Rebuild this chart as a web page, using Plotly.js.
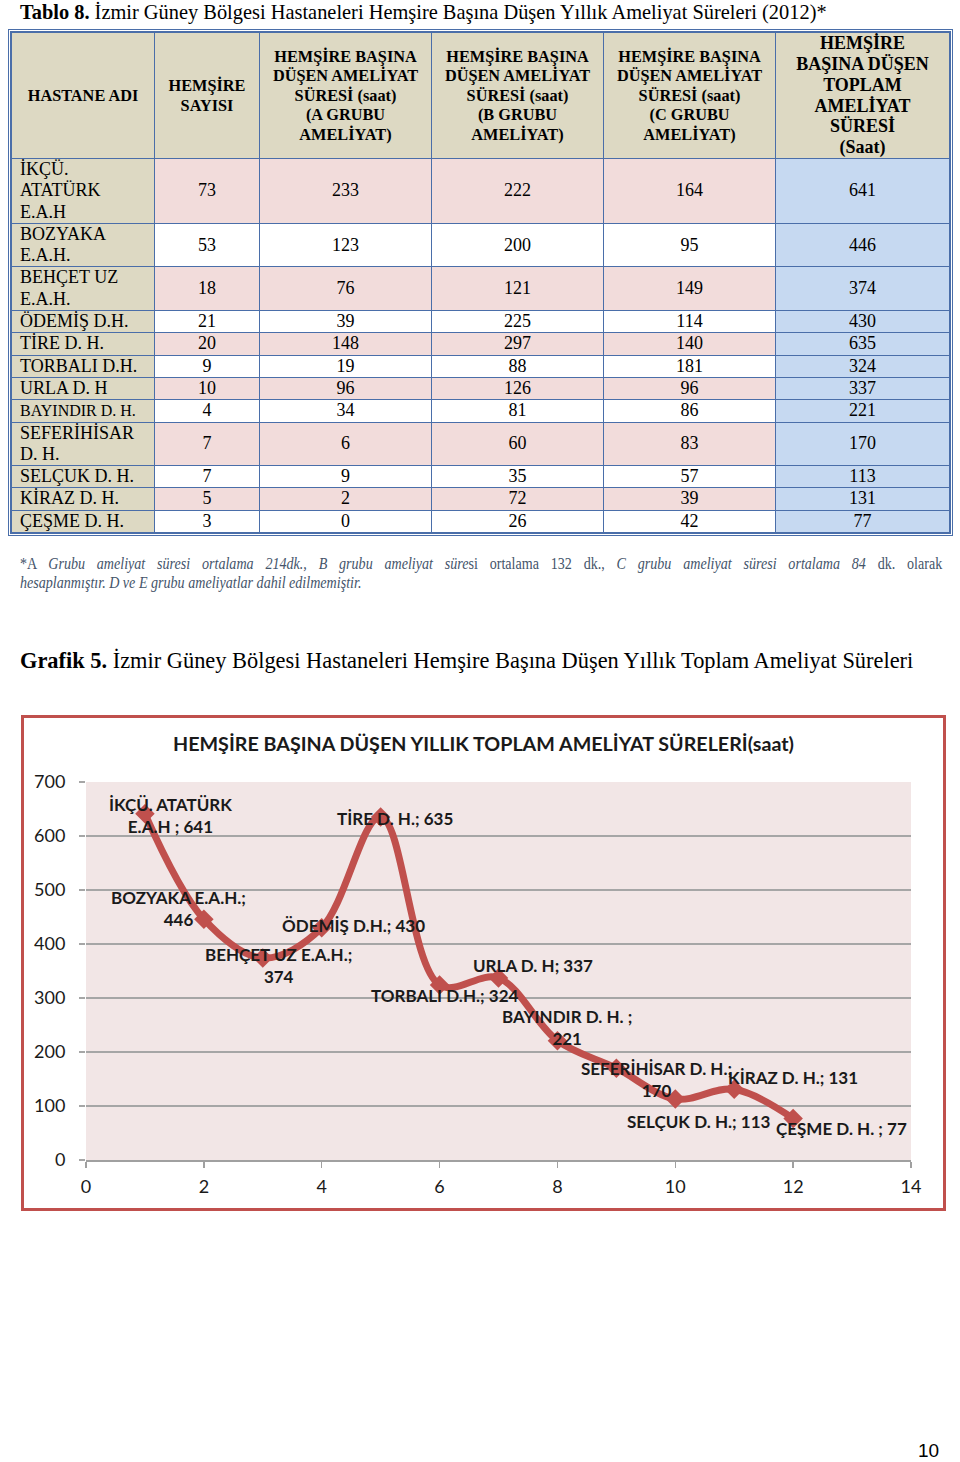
<!DOCTYPE html>
<html>
<head>
<meta charset="UTF-8">
<script src="https://cdn.plot.ly/plotly-3.0.1.min.js"></script>
<style>
body { margin:0; background:#fff; width:960px; height:1462px; position:relative; font-family:"Liberation Serif", serif; overflow:hidden; }
#caption { position:absolute; left:20px; top:0px; font-size:20.4px; line-height:24px; color:#000; white-space:nowrap; }
#tableBox { position:absolute; left:8px; top:29px; border:3px double #4a6ea9; }
#tableBox table { border-collapse:collapse; table-layout:fixed; width:938px; }
#tableBox th, #tableBox td { border:1.5px solid #4a6ea9; padding:0; color:#000; }
#tableBox th { background:#ddd9c3; font-size:16.3px; line-height:19.5px; height:125px; text-align:center; vertical-align:middle; }
#tableBox th.last { font-size:18px; line-height:20.8px; }
#tableBox td { font-size:18px; line-height:21.3px; text-align:center; vertical-align:middle; }
#tableBox td.name { background:#ddd9c3; text-align:left; padding-left:8px; }
#note { position:absolute; left:20px; top:554px; width:1048px; font-size:16px; line-height:19px; color:#44546a; transform:scaleX(0.88); transform-origin:0 0; }
#note .l1 { text-align:justify; text-align-last:justify; white-space:nowrap; }
#grafik { position:absolute; left:20px; top:647px; font-size:22.4px; line-height:28px; white-space:nowrap; }
#chart { position:absolute; left:21px; top:715px; width:925px; height:496px; border:3px solid #c0504d; box-sizing:border-box; }
#page { position:absolute; left:918px; top:1440px; font-family:"Liberation Sans", sans-serif; font-size:19px; }
</style>
</head>
<body>

<div id="caption"><b>Tablo 8.</b> İzmir Güney Bölgesi Hastaneleri Hemşire Başına Düşen Yıllık Ameliyat Süreleri (2012)*</div>
<div id="tableBox"></div>
<div id="note">
	<div class="l1">*A <i>Grubu ameliyat süresi ortalama 214dk., B grubu ameliyat süre</i>si ortalama 132 dk., <i>C grubu ameliyat süresi ortalama 84</i> dk. olarak</div>
	<div><i>hesaplanmıştır. D ve E grubu ameliyatlar dahil edilmemiştir.</i></div>
</div>
<div id="grafik"><b>Grafik 5.</b> İzmir Güney Bölgesi Hastaneleri Hemşire Başına Düşen Yıllık Toplam Ameliyat Süreleri</div>
<div id="chart"></div>
<div id="page">10</div>

<script>
	// table data
	var headers = [
		'HASTANE ADI',
		'HEMŞİRE<br>SAYISI',
		'HEMŞİRE BAŞINA<br>DÜŞEN AMELİYAT<br>SÜRESİ (saat)<br>(A GRUBU<br>AMELİYAT)',
		'HEMŞİRE BAŞINA<br>DÜŞEN AMELİYAT<br>SÜRESİ (saat)<br>(B GRUBU<br>AMELİYAT)',
		'HEMŞİRE BAŞINA<br>DÜŞEN AMELİYAT<br>SÜRESİ (saat)<br>(C GRUBU<br>AMELİYAT)',
		'HEMŞİRE<br>BAŞINA DÜŞEN<br>TOPLAM<br>AMELİYAT<br>SÜRESİ<br>(Saat)'
	];
	var hospitals = ['İKÇÜ.<br>ATATÜRK<br>E.A.H', 'BOZYAKA<br>E.A.H.', 'BEHÇET UZ<br>E.A.H.', 'ÖDEMİŞ D.H.', 'TİRE D. H.',
		'TORBALI D.H.', 'URLA D. H', 'BAYINDIR D. H.', 'SEFERİHİSAR<br>D. H.', 'SELÇUK D. H.', 'KİRAZ D. H.', 'ÇEŞME D. H.'];
	var nurses = [73, 53, 18, 21, 20, 9, 10, 4, 7, 7, 5, 3];
	var groupA = [233, 123, 76, 39, 148, 19, 96, 34, 6, 9, 2, 0];
	var groupB = [222, 200, 121, 225, 297, 88, 126, 81, 60, 35, 72, 26];
	var groupC = [164, 95, 149, 114, 140, 181, 96, 86, 83, 57, 39, 42];
	var total = [641, 446, 374, 430, 635, 324, 337, 221, 170, 113, 131, 77];

	// chart data
	var chartX = [1, 2, 3, 4, 5, 6, 7, 8, 9, 10, 11, 12];
	var chartNames = ['İKÇÜ. ATATÜRK<br>E.A.H ', 'BOZYAKA E.A.H.', 'BEHÇET UZ E.A.H.', 'ÖDEMİŞ D.H.', 'TİRE D. H.',
		'TORBALI D.H.', 'URLA D. H', 'BAYINDIR D. H. ', 'SEFERİHİSAR D. H.', 'SELÇUK D. H.', 'KİRAZ D. H.', 'ÇEŞME D. H. '];
	var chartTitle = 'HEMŞİRE BAŞINA DÜŞEN YILLIK TOPLAM AMELİYAT SÜRELERİ(saat)';

	// label placement (pixels relative to the point)
	var labelSep = [' ', '<br>', '<br>', ' ', ' ', ' ', ' ', '<br>', '<br>', ' ', ' ', ' '];
	var labelShift = [[26, -2], [-25, 11], [16, -7], [32, 2], [14, -1], [5, -10], [34, 13], [10, 13], [40, -11], [24, -23], [59, 12], [48, -10]];

	// --- table, built from the arrays ---
	function buildTable()
	{
		var widths = [143, 105, 172, 172, 172, 174];
		var html = '<table><colgroup>';
		widths.forEach(function(w) { html += '<col style="width:' + w + 'px">'; });
		html += '</colgroup><tr>';
		headers.forEach(function(h, i)
		{
			html += '<th' + (i == headers.length - 1 ? ' class="last"' : '') + '>' + h + '</th>';
		});
		html += '</tr>';
		for(var i = 0; i < hospitals.length; i++)
		{
			var fill = (i % 2 == 0) ? '#f2dcdb' : '#ffffff';
			// long single-line names are set a little smaller, as in the original
			var nameStyle = (hospitals[i].indexOf('<br>') < 0 && hospitals[i].length > 13) ? ' style="font-size:16px"' : '';
			html += '<tr><td class="name"' + nameStyle + '>' + hospitals[i] + '</td>';
			[nurses, groupA, groupB, groupC].forEach(function(col)
			{
				html += '<td style="background:' + fill + '">' + col[i] + '</td>';
			});
			html += '<td style="background:#c6d9f1">' + total[i] + '</td></tr>';
		}
		html += '</table>';
		document.getElementById('tableBox').innerHTML = html;
	}
	buildTable();

	// --- chart ---
	var lineTrace =
	{
		x: chartX,
		y: total,
		type: 'scatter',
		mode: 'lines+markers',
		line: {color: '#c0504d', width: 7, shape: 'spline', smoothing: 1},
		marker: {symbol: 'diamond', size: 15, color: '#c0504d'},
		showlegend: false,
		hoverinfo: 'none'
	};

	var annotations = chartX.map(function(x, i)
	{
		return {
			x: x, y: total[i], xref: 'x', yref: 'y',
			text: '<b>' + chartNames[i] + ';' + labelSep[i] + total[i] + '</b>',
			showarrow: false,
			xshift: labelShift[i][0], yshift: labelShift[i][1],
			xanchor: 'center', yanchor: 'middle', align: 'center',
			font: {family: 'Lato', size: 17, color: '#1a1a1a'}
		};
	});

	var layout =
	{
		width: 919,
		height: 490,
		margin: {l: 62, r: 32, t: 64, b: 48},
		paper_bgcolor: '#ffffff',
		plot_bgcolor: '#f2e6e6',
		title: {text: '<b>' + chartTitle + '</b>', x: 0.5, xanchor: 'center', y: 0.947, yanchor: 'middle',
			yref: 'container', font: {family: 'Lato', size: 19.7, color: '#1a1a1a'}},
		font: {family: 'Lato', color: '#1a1a1a'},
		xaxis:
		{
			range: [0, 14], dtick: 2, tick0: 0, showgrid: false, zeroline: false,
			showline: true, linecolor: '#a0a0a0', linewidth: 1.5,
			ticks: 'outside', ticklen: 6, tickcolor: '#a0a0a0', tickwidth: 1.5,
			ticklabelstandoff: 4, tickfont: {family: 'Lato', size: 18, color: '#1a1a1a'}
		},
		yaxis:
		{
			range: [0, 700], dtick: 100, tick0: 0, showgrid: true, gridcolor: '#a6a6a6', gridwidth: 1.5,
			zeroline: false, showline: false,
			ticks: 'outside', ticklen: 6, tickcolor: '#a6a6a6', tickwidth: 1.5,
			ticklabelstandoff: 10, tickfont: {family: 'Lato', size: 18, color: '#1a1a1a'}
		},
		annotations: annotations
	};

	Plotly.newPlot('chart', [lineTrace], layout, {displayModeBar: false, staticPlot: true});
</script>
</body>
</html>
